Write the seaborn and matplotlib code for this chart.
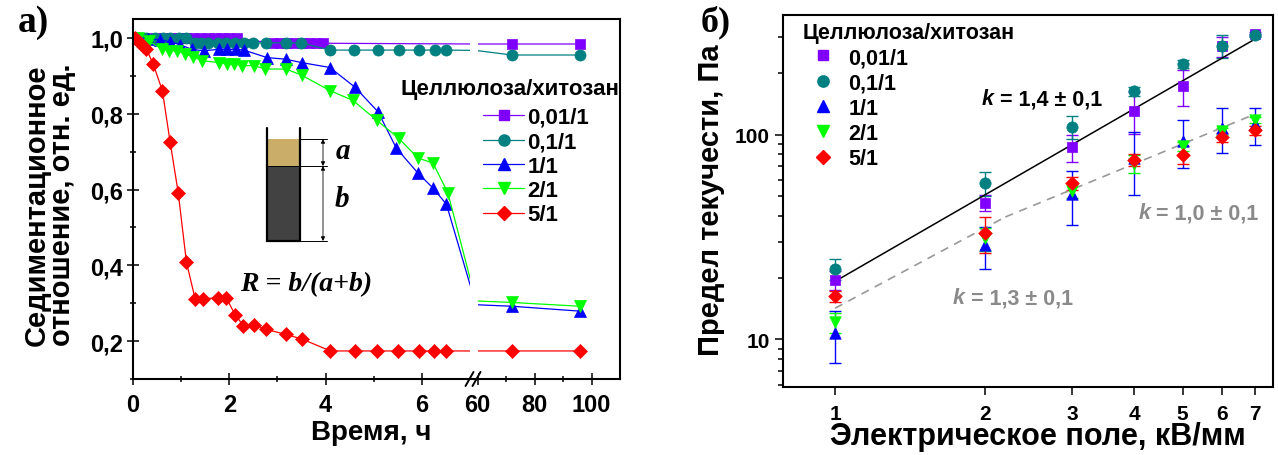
import numpy as np
import pandas as pd
import matplotlib
matplotlib.use("Agg")
import matplotlib.pyplot as plt
import seaborn as sns
from matplotlib.lines import Line2D
from matplotlib.patches import Rectangle
from matplotlib.ticker import LogLocator, NullLocator, NullFormatter

# ---------------- data ----------------
ratio_labels = ["0,01/1", "0,1/1", "1/1", "2/1", "5/1"]
series_colors = ["#8000ff", "#008080", "#0000ff", "#00ff00", "#ff0000"]
series_markers = ["s", "o", "^", "v", "D"]

# (a) sedimentation ratio R = b/(a+b) versus time, h
time_001 = [0.05, 0.2, 0.35, 0.5, 0.65, 0.8, 0.95, 1.1, 1.25, 1.4, 1.55, 1.7, 1.85, 2.0, 2.15,
            2.9, 3.05, 3.2, 3.35, 3.5, 3.65, 3.8, 3.95, 48, 72, 96]
sed_001 = [1.0, 1.0, 1.0, 1.0, 1.0, 1.0, 1.0, 1.0, 1.0, 1.0, 1.0, 1.0, 1.0, 1.0, 1.0,
           0.986, 0.986, 0.986, 0.986, 0.986, 0.986, 0.986, 0.986, 0.984, 0.984, 0.984]

time_01 = [0.08, 0.28, 0.46, 0.63, 0.77, 0.95, 1.11, 1.28, 1.42, 1.56, 1.76, 1.94, 2.12, 2.30,
           2.50, 2.77, 3.17, 3.49, 4.09, 4.59, 5.09, 5.52, 5.93, 6.28, 6.51, 48, 72, 96]
sed_01 = [1.0, 1.0, 1.0, 1.0, 1.0, 1.0, 1.0, 0.987, 0.987, 0.987, 0.987, 0.987, 0.987, 0.987,
          0.987, 0.987, 0.987, 0.987, 0.968, 0.968, 0.968, 0.968, 0.968, 0.968, 0.968, 0.967, 0.955, 0.955]

time_1 = [0.12, 0.32, 0.56, 0.76, 0.98, 1.22, 1.47, 1.78, 1.96, 2.13, 2.30, 2.79, 3.17, 3.50,
          4.09, 4.61, 5.09, 5.47, 5.92, 6.23, 6.51, 48, 72, 96]
sed_1 = [1.0, 0.998, 0.995, 0.99, 0.982, 0.97, 0.966, 0.97, 0.97, 0.97, 0.968, 0.948, 0.944, 0.935,
         0.922, 0.870, 0.805, 0.709, 0.643, 0.604, 0.561, 0.296, 0.292, 0.279]

time_2 = [0.1, 0.33, 0.61, 0.75, 0.92, 1.09, 1.25, 1.44, 1.78, 1.96, 2.10, 2.27, 2.51, 2.75,
          3.17, 3.50, 4.09, 4.57, 5.06, 5.52, 5.92, 6.23, 6.54, 48, 72, 96]
sed_2 = [1.0, 0.992, 0.970, 0.966, 0.966, 0.957, 0.95, 0.94, 0.935, 0.931, 0.931, 0.927, 0.927, 0.918,
         0.918, 0.902, 0.861, 0.835, 0.783, 0.735, 0.683, 0.670, 0.591, 0.306, 0.302, 0.292]

time_5 = [0.05, 0.12, 0.2, 0.28, 0.42, 0.61, 0.77, 0.94, 1.11, 1.29, 1.45, 1.77, 1.94, 2.12, 2.29,
          2.52, 2.76, 3.17, 3.52, 4.10, 4.61, 5.07, 5.51, 5.93, 6.26, 6.51, 48, 72, 96]
sed_5 = [1.0, 0.99, 0.98, 0.97, 0.931, 0.861, 0.726, 0.591, 0.408, 0.312, 0.312, 0.314, 0.313, 0.270, 0.241,
         0.243, 0.231, 0.218, 0.205, 0.174, 0.174, 0.174, 0.174, 0.174, 0.174, 0.174, 0.174, 0.174, 0.174]

time_major = [0, 2, 4, 6, 60, 80, 100]
time_major_labels = ["0", "2", "4", "6", "60", "80", "100"]
time_minor = [1, 3, 5, 70, 90]
sed_major = [0.2, 0.4, 0.6, 0.8, 1.0]
sed_major_labels = ["0,2", "0,4", "0,6", "0,8", "1,0"]
sed_minor = [0.1, 0.3, 0.5, 0.7, 0.9]

# (b) yield stress, Pa, versus electric field, kV/mm
field = [1, 2, 3, 4, 5, 6, 7]
tau_001 = [19.5, 46.5, 86.8, 130.7, 172.0, 270.0, 309.0]
err_001 = [2.0, 4.0, 13.0, 30.0, 35.0, 30.0, 8.0]
tau_01 = [22.1, 57.9, 109.2, 162.5, 220.7, 270.0, 305.0]
err_01 = [2.7, 8.0, 14.0, 8.0, 10.0, 35.0, 6.0]
tau_1 = [10.7, 28.8, 51.2, 76.5, 93.3, 108.0, 112.0]
err_1 = [3.0, 6.7, 15.0, 26.0, 25.0, 27.0, 23.0]
tau_2 = [12.1, 31.1, 53.2, 72.2, 87.5, 104.0, 117.5]
err_2 = [1.3, 4.0, 4.0, 7.0, 4.0, 4.0, 4.0]
tau_5 = [16.3, 33.0, 57.9, 75.0, 79.4, 97.0, 105.0]
err_5 = [1.0, 6.5, 4.0, 5.0, 8.0, 5.0, 5.0]

field_ticks = [1, 2, 3, 4, 5, 6, 7]
field_tick_labels = ["1", "2", "3", "4", "5", "6", "7"]
tau_ticks = [10, 100]
tau_tick_labels = ["10", "100"]

# power-law fits tau = A * E^k
fit_hi = {"A": 19.2, "k": 1.4, "E": [1, 7]}
fit_lo1 = {"A": 14.2, "k": 1.3, "E": [1, 2.2]}
fit_lo2 = {"k": 1.0, "E": [2.2, 7]}

sed_series = [(time_001, sed_001), (time_01, sed_01), (time_1, sed_1), (time_2, sed_2), (time_5, sed_5)]
yield_series = [(tau_001, err_001), (tau_01, err_01), (tau_1, err_1), (tau_2, err_2), (tau_5, err_5)]

# ---------------- style ----------------
sns.set_theme(style="ticks")
plt.rcParams["font.family"] = ["Liberation Sans", "DejaVu Sans"]
plt.rcParams["font.weight"] = "bold"
plt.rcParams["axes.labelweight"] = "bold"
plt.rcParams["axes.edgecolor"] = "black"
plt.rcParams["axes.linewidth"] = 1.5
plt.rcParams["xtick.color"] = "black"
plt.rcParams["ytick.color"] = "black"
plt.rcParams["text.color"] = "black"
plt.rcParams["axes.labelcolor"] = "black"

W, H = 1278, 456
fig = plt.figure(figsize=(W / 100, H / 100), dpi=100)


def fx(px):
    return px / W


def fy(py):
    return 1 - py / H


SERIF = ["Liberation Serif", "DejaVu Serif"]

# ================= panel (a) =================
ax1 = fig.add_axes([fx(133), fy(380), fx(620) - fx(133), fy(20) - fy(380)])

marker_sizes_a = [7.0, 8.0, 9.0, 9.0, 7.5]
for (t, r), lab, col, mk, ms in zip(sed_series, ratio_labels, series_colors, series_markers, marker_sizes_a):
    shown = [i for i, tv in enumerate(t) if tv <= 7 or tv >= 60]
    sns.lineplot(x=t, y=r, ax=ax1, color=col, marker=mk, markersize=ms, markeredgecolor=col,
                 markeredgewidth=0.5, markevery=shown, linewidth=0.9, estimator=None, sort=False)

# broken time axis: 0-7 h and 60-110 h share one axes
BR0, BR1 = 7.0, 60.0
GAP = 0.158
RSCALE = 2.85 / 48.2


def t_fwd(t):
    t = np.asarray(t, dtype=float)
    return np.where(t <= BR0, t,
                    np.where(t < BR1, BR0 + (t - BR0) * GAP / (BR1 - BR0),
                             BR0 + GAP + (t - BR1) * RSCALE))


def t_inv(u):
    u = np.asarray(u, dtype=float)
    return np.where(u <= BR0, u,
                    np.where(u < BR0 + GAP, BR0 + (u - BR0) * (BR1 - BR0) / GAP,
                             BR1 + (u - BR0 - GAP) / RSCALE))


ax1.set_xscale("function", functions=(t_fwd, t_inv))
ax1.set_xlim(0, 110)
ax1.set_ylim(0.1, 1.05)
ax1.axvspan(BR0, BR1, color="white", zorder=2.3, lw=0)

ax1.set_xticks(time_major)
ax1.set_xticklabels(time_major_labels)
ax1.set_xticks(time_minor, minor=True)
ax1.set_yticks(sed_major)
ax1.set_yticklabels(sed_major_labels)
ax1.set_yticks(sed_minor, minor=True)
ax1.tick_params(which="both", direction="inout", top=False, right=False, width=1.1, labelsize=17)
ax1.tick_params(which="major", length=8)
ax1.tick_params(which="minor", length=5)
ax1.tick_params(axis="x", pad=6)
ax1.tick_params(axis="y", pad=3)

ax1.set_xlabel("Время, ч", fontsize=20, va="center")
ax1.xaxis.set_label_coords(0.489, -0.146)
ax1.set_ylabel("Седиментационное\nотношение, отн. ед.", fontsize=21, va="center", linespacing=0.9)
ax1.yaxis.set_label_coords(-0.172, 0.486)

# break marks on the time axis
for x0 in (465.5, 472.5):
    fig.add_artist(Line2D([fx(x0), fx(x0 + 8)], [fy(387), fy(373)], color="black", lw=1.4))

handles_a = [Line2D([], [], color=c, marker=m, markersize=ms, markeredgecolor=c, lw=0.9)
             for c, m, ms in zip(series_colors, series_markers, marker_sizes_a)]
ax1.legend(handles_a, ratio_labels, loc="upper left", bbox_to_anchor=(fx(483), fy(108)),
           bbox_transform=fig.transFigure, frameon=False, borderpad=0, borderaxespad=0,
           handlelength=1.85, handletextpad=0.15, labelspacing=0.15, fontsize=16)
fig.text(fx(400), fy(90), "Целлюлоза/хитозан", ha="left", va="center", fontsize=16, weight="bold")

# sketch of the sediment column
iax = fig.add_axes([fx(255), fy(250), fx(355) - fx(255), fy(120) - fy(250)])
iax.set_xlim(255, 355)
iax.set_ylim(250, 120)
iax.axis("off")
iax.add_patch(Rectangle((267, 140), 33, 27, facecolor="#c9ad69", edgecolor="none"))
iax.add_patch(Rectangle((267, 167), 33, 75, facecolor="#424242", edgecolor="none"))
iax.plot([267, 267, 300, 300], [129, 242, 242, 129], color="black", lw=1.6, solid_joinstyle="miter")
for yy in (140, 167, 242):
    iax.plot([300, 327], [yy, yy], color="black", lw=0.7)
iax.plot([267, 300], [167, 167], color="black", lw=0.7)
for y0, y1 in ((140, 167), (167, 242)):
    iax.annotate("", xy=(323, y0), xytext=(323, y1),
                 arrowprops=dict(arrowstyle="<|-|>", lw=0.6, color="black", shrinkA=0, shrinkB=0,
                                 mutation_scale=6))
iax.text(343, 152, "a", family=SERIF, style="italic", weight="bold", fontsize=21, ha="center", va="center")
iax.text(342, 200, "b", family=SERIF, style="italic", weight="bold", fontsize=21, ha="center", va="center")
fig.text(fx(240), fy(285), "R = b/(a+b)", family=SERIF, style="italic", weight="bold", fontsize=20,
         ha="left", va="center")

fig.text(fx(33), fy(22), "а)", family=SERIF, weight="bold", fontsize=27, ha="center", va="center")

# ================= panel (b) =================
ax2 = fig.add_axes([fx(783.3), fy(388), fx(1273) - fx(783.3), fy(16) - fy(388)])
ax2.set_xscale("log")
ax2.set_yscale("log")

marker_sizes_b = [52, 66, 68, 68, 48]
for (tau, err), lab, col, mk, s in zip(yield_series, ratio_labels, series_colors, series_markers, marker_sizes_b):
    ax2.errorbar(field, tau, yerr=err, fmt="none", ecolor=col, elinewidth=1.0, capsize=4, capthick=1.0, zorder=2)
    sns.scatterplot(x=field, y=tau, ax=ax2, color=col, marker=mk, s=s, edgecolor=col, linewidth=0.5, zorder=3)

E_hi = np.array(fit_hi["E"], dtype=float)
sns.lineplot(x=E_hi, y=fit_hi["A"] * E_hi ** fit_hi["k"], ax=ax2, color="black", linewidth=1.1, zorder=2.5)
E_lo1 = np.array(fit_lo1["E"], dtype=float)
sns.lineplot(x=E_lo1, y=fit_lo1["A"] * E_lo1 ** fit_lo1["k"], ax=ax2, color="#999999", linewidth=1.2,
             linestyle=(0, (5, 4)), zorder=2.5)
A_lo2 = fit_lo1["A"] * fit_lo2["E"][0] ** (fit_lo1["k"] - fit_lo2["k"])
E_lo2 = np.array(fit_lo2["E"], dtype=float)
sns.lineplot(x=E_lo2, y=A_lo2 * E_lo2 ** fit_lo2["k"], ax=ax2, color="#999999", linewidth=1.2,
             linestyle=(0, (5, 4)), zorder=2.5)

ax2.set_xlim(0.787, 7.6)
ax2.set_ylim(5.86, 383)
ax2.xaxis.set_major_locator(plt.FixedLocator(field_ticks))
ax2.set_xticklabels(field_tick_labels)
ax2.xaxis.set_minor_locator(NullLocator())
ax2.yaxis.set_major_locator(plt.FixedLocator(tau_ticks))
ax2.set_yticklabels(tau_tick_labels)
ax2.yaxis.set_minor_locator(LogLocator(base=10, subs=np.arange(2, 10)))
ax2.yaxis.set_minor_formatter(NullFormatter())
ax2.tick_params(which="both", direction="out", top=False, right=False, width=1.1, labelsize=15)
ax2.tick_params(which="major", length=6)
ax2.tick_params(which="minor", length=3.5)
ax2.tick_params(axis="x", pad=6)

ax2.set_xlabel("Электрическое поле, кВ/мм", fontsize=22, va="center")
ax2.xaxis.set_label_coords(0.52, -0.132)
ax2.set_ylabel("Предел текучести, Па", fontsize=21, va="center")
ax2.yaxis.set_label_coords(-0.148, 0.505)


def slope_label(x, y, value, color):
    k_txt = ax2.text(x, y, "k", style="italic", weight="bold", fontsize=15.5, color=color, ha="left", va="center")
    ax2.annotate(" = " + value, xy=(1, 0.5), xycoords=k_txt, ha="left", va="center",
                 fontsize=15.5, weight="bold", color=color)


slope_label(1.974, 149.5, "1,4 ± 0,1", "black")
slope_label(4.07, 41.5, "1,0 ± 0,1", "#8a8a8a")
slope_label(1.724, 16.0, "1,3 ± 0,1", "#8a8a8a")

handles_b = [Line2D([], [], ls="none", marker=m, color=c, markeredgecolor=c, markersize=np.sqrt(s))
             for c, m, s in zip(series_colors, series_markers, marker_sizes_b)]
ax2.legend(handles_b, ratio_labels, loc="upper left", bbox_to_anchor=(fx(812), fy(48)),
           bbox_transform=fig.transFigure, frameon=False, borderpad=0, borderaxespad=0,
           handlelength=1.0, handletextpad=0.7, labelspacing=0.2, fontsize=15.5)
fig.text(fx(803), fy(33), "Целлюлоза/хитозан", ha="left", va="center", fontsize=15.5, weight="bold")

fig.text(fx(716), fy(22), "б)", family=SERIF, weight="bold", fontsize=26, ha="center", va="center")

fig.savefig("out.png", dpi=100)
